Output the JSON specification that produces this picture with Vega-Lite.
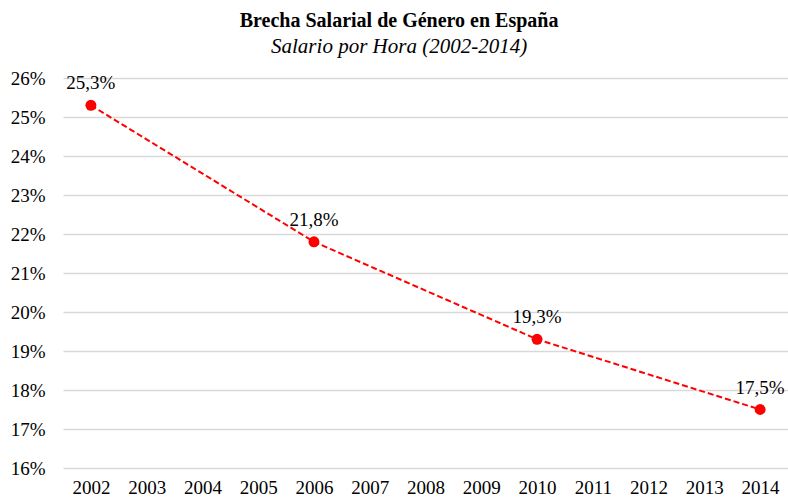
{
  "$schema": "https://vega.github.io/schema/vega-lite/v6.json",
  "autosize": {"type": "fit", "contains": "padding"},
  "width": 788,
  "height": 499,
  "padding": {"left": 10, "right": 0, "top": 11, "bottom": 2},
  "background": "white",
  "config": {
    "locale": {"number": {"decimal": ",", "thousands": ".", "grouping": [3], "currency": ["", " €"]}},
    "view": {"stroke": null},
    "font": "Liberation Serif"
  },
  "title": {
    "text": "Brecha Salarial de Género en España",
    "subtitle": "Salario por Hora (2002-2014)",
    "anchor": "middle",
    "frame": "bounds",
    "font": "Liberation Serif",
    "fontSize": 20,
    "fontWeight": "bold",
    "color": "#000000",
    "subtitleFont": "Liberation Serif",
    "subtitleFontSize": 21,
    "subtitleFontStyle": "italic",
    "subtitleColor": "#000000",
    "subtitlePadding": 5,
    "offset": 12
  },
  "data": {
    "values": [
      {"year": 2002, "brecha": 0.253},
      {"year": 2006, "brecha": 0.218},
      {"year": 2010, "brecha": 0.193},
      {"year": 2014, "brecha": 0.175}
    ]
  },
  "encoding": {
    "x": {
      "field": "year",
      "type": "ordinal",
      "scale": {"type": "point", "domain": [2002, 2003, 2004, 2005, 2006, 2007, 2008, 2009, 2010, 2011, 2012, 2013, 2014], "padding": 0.5},
      "axis": {
        "title": null,
        "labelAngle": 0,
        "domain": false,
        "ticks": false,
        "grid": false,
        "labelFont": "Liberation Serif",
        "labelFontSize": 19,
        "labelColor": "#000000",
        "labelPadding": 10
      }
    },
    "y": {
      "field": "brecha",
      "type": "quantitative",
      "scale": {"domain": [0.16, 0.26], "nice": false, "zero": false},
      "axis": {
        "title": null,
        "format": ".0%",
        "values": [0.16, 0.17, 0.18, 0.19, 0.20, 0.21, 0.22, 0.23, 0.24, 0.25, 0.26],
        "labelOverlap": false,
        "domain": false,
        "ticks": false,
        "grid": true,
        "gridColor": "#d9d9d9",
        "gridWidth": 1.5,
        "labelFont": "Liberation Serif",
        "labelFontSize": 19,
        "labelColor": "#000000",
        "labelPadding": 18
      }
    }
  },
  "layer": [
    {
      "mark": {"type": "line", "color": "#ff0000", "strokeWidth": 2, "strokeDash": [6, 3]}
    },
    {
      "mark": {"type": "point", "filled": true, "color": "#ff0000", "size": 120, "opacity": 1}
    },
    {
      "mark": {"type": "text", "dy": -22, "baseline": "middle", "font": "Liberation Serif", "fontSize": 19, "color": "#000000"},
      "encoding": {
        "text": {"field": "brecha", "type": "quantitative", "format": ".1%"}
      }
    }
  ]
}
